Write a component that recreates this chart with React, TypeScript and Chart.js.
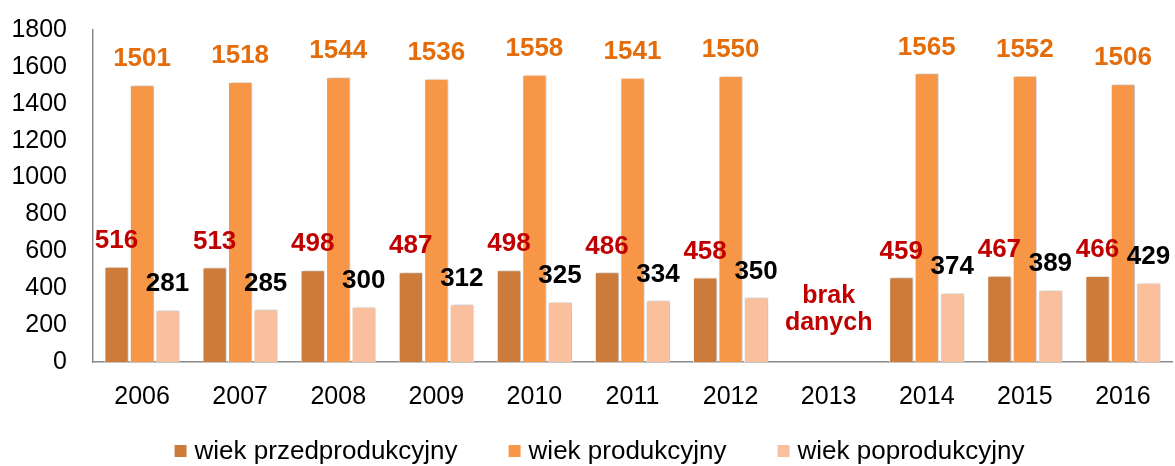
import React, { useEffect, useRef } from "react";
import { Chart, registerables } from "chart.js";

Chart.register(...registerables);

const categories = ["2006", "2007", "2008", "2009", "2010", "2011", "2012", "2013", "2014", "2015", "2016"];
const seriesNames = ["wiek przedprodukcyjny", "wiek produkcyjny", "wiek poprodukcyjny"];
const preProductive = [516, 513, 498, 487, 498, 486, 458, null, 459, 467, 466];
const productive = [1501, 1518, 1544, 1536, 1558, 1541, 1550, null, 1565, 1552, 1506];
const postProductive = [281, 285, 300, 312, 325, 334, 350, null, 374, 389, 429];
const barColors = ["#CD7B3A", "#F79646", "#FAC09E"];
const labelColors = ["#C00000", "#E46C0A", "#000000"];
const noDataCategory = "2013";
const noDataLines = ["brak", "danych"];
const yMin = 0;
const yMax = 1800;
const yStep = 200;

const shadowPlugin = {
  id: "barShadow",
  beforeDatasetsDraw(chart: any) {
    const ctx = chart.ctx;
    ctx.save();
    ctx.shadowColor = "rgba(0,0,0,0.28)";
    ctx.shadowBlur = 3;
    ctx.shadowOffsetX = 1.5;
    ctx.shadowOffsetY = 0;
  },
  afterDatasetsDraw(chart: any) {
    chart.ctx.restore();
  },
};

const labelsPlugin = {
  id: "valueLabels",
  afterDraw(chart: any) {
    const ctx = chart.ctx;
    ctx.save();
    ctx.font = "bold 26px 'Liberation Sans', Arial, sans-serif";
    ctx.textAlign = "center";
    ctx.textBaseline = "middle";
    chart.data.datasets.forEach((ds: any, i: number) => {
      const meta = chart.getDatasetMeta(i);
      meta.data.forEach((el: any, j: number) => {
        const v = ds.data[j];
        if (v === null || v === undefined) return;
        ctx.fillStyle = labelColors[i];
        ctx.fillText(String(v), el.x, el.y - 26);
      });
    });
    const xs = chart.scales.x;
    const ys = chart.scales.y;
    const idx = categories.indexOf(noDataCategory);
    const cx = xs.getPixelForValue(idx);
    const base = ys.getPixelForValue(0);
    ctx.font = "bold 25px 'Liberation Sans', Arial, sans-serif";
    ctx.fillStyle = labelColors[0];
    noDataLines.forEach((line, k) => {
      ctx.fillText(line, cx, base - 66 + k * 27);
    });
    ctx.restore();
  },
};

const legendPlugin = {
  id: "customLegend",
  afterDraw(chart: any) {
    const ctx = chart.ctx;
    ctx.save();
    ctx.font = "26px 'Liberation Sans', Arial, sans-serif";
    ctx.textBaseline = "middle";
    ctx.textAlign = "left";
    const box = 12;
    const gapText = 8;
    const gapItem = 51;
    const widths = seriesNames.map((n) => box + gapText + ctx.measureText(n).width);
    const total = widths.reduce((a, b) => a + b, 0) + gapItem * (widths.length - 1);
    let x = chart.width / 2 + 12 - total / 2;
    const y = 451;
    seriesNames.forEach((n, i) => {
      ctx.fillStyle = barColors[i];
      ctx.fillRect(x, y - box / 2, box, box);
      ctx.fillStyle = "#000";
      ctx.fillText(n, x + box + gapText, y + 1);
      x += widths[i] + gapItem;
    });
    ctx.restore();
  },
};

export default function App() {
  const ref = useRef<HTMLCanvasElement | null>(null);
  useEffect(() => {
    document.body.style.margin = "0";
    if (!ref.current) return;
    const tickFont = { family: "'Liberation Sans', Arial, sans-serif", size: 25 };
    const chart = new Chart(ref.current, {
      type: "bar",
      data: {
        labels: categories,
        datasets: [preProductive, productive, postProductive].map((d, i) => ({
          label: seriesNames[i],
          data: d,
          backgroundColor: barColors[i],
          borderColor: "rgba(255,255,255,0.9)",
          borderWidth: 1,
          categoryPercentage: 0.78,
          barPercentage: 0.95,
        })),
      },
      options: {
        animation: false,
        responsive: false,
        layout: { padding: { top: 30, right: 3, left: 0, bottom: 34 } },
        plugins: { legend: { display: false }, tooltip: { enabled: false } },
        scales: {
          x: {
            grid: { display: false, drawTicks: false },
            border: { display: true, color: "#8A8A8A", width: 1.5 },
            ticks: { color: "#000", font: tickFont, padding: 20 },
          },
          y: {
            min: yMin,
            max: yMax,
            grid: { display: false, drawTicks: false },
            border: { display: true, color: "#8A8A8A", width: 1.5 },
            ticks: {
              color: "#000",
              font: tickFont,
              padding: 26,
              stepSize: yStep,
              callback: (v: any) => String(v),
            },
            afterFit: (scale: any) => {
              scale.width = 93;
              scale.paddingTop = 0;
              scale.paddingBottom = 0;
            },
          },
        },
      },
      plugins: [shadowPlugin, labelsPlugin, legendPlugin],
    });
    return () => chart.destroy();
  }, []);
  return (
    <div style={{ width: 1175, height: 466 }}>
      <canvas ref={ref} width={1175} height={466} style={{ display: "block" }} />
    </div>
  );
}
